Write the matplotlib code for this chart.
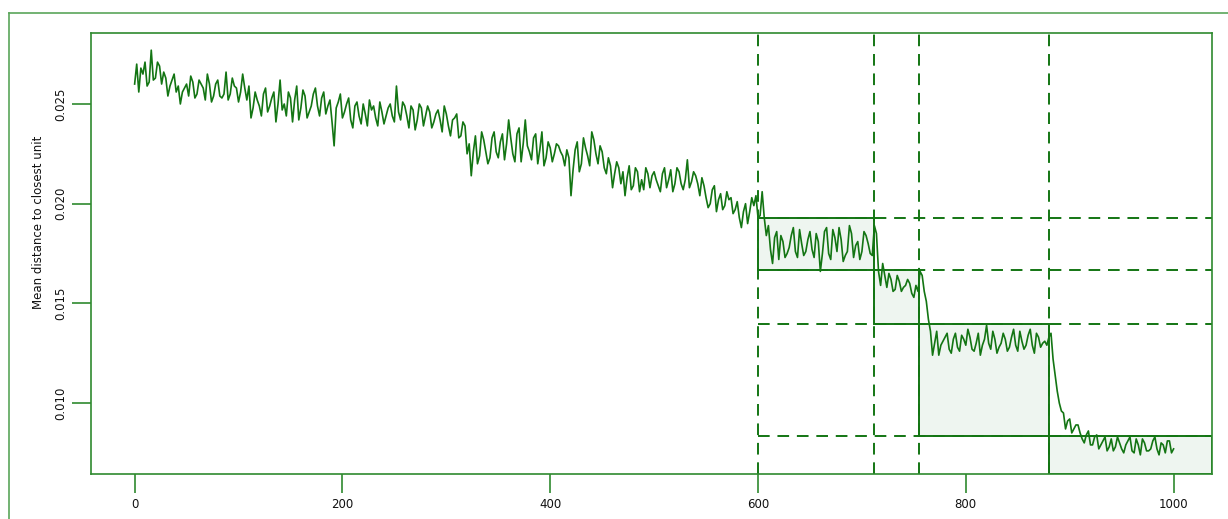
import numpy as np
import matplotlib
matplotlib.use("Agg")
import matplotlib.pyplot as plt
from matplotlib.patches import Rectangle
from matplotlib.lines import Line2D

# mean distance (x 1e-3), readings at epochs 0, 4, 8, ... 1000
dist_a = [26.0, 25.6, 26.5, 25.9, 27.7, 26.3, 26.9, 26.6, 25.4, 26.2, 25.6, 25.0, 25.8,
          25.4, 26.1, 25.5, 26.0, 25.2, 26.0, 25.4, 26.2, 25.3, 26.6, 25.5, 25.9, 25.1]
dist_b = [26.5, 25.2, 24.3, 25.6, 24.9, 25.5, 24.6, 25.3, 24.1, 26.2, 25.0, 25.6, 24.1,
          25.9, 24.8, 25.4, 24.6, 25.5, 24.9, 25.3, 24.5, 25.2, 22.9, 25.1, 24.3]
dist_c = [25.0, 24.2, 24.9, 24.4, 25.0, 23.9, 24.7, 24.3, 25.1, 24.0, 24.8, 24.4, 25.9,
          24.2, 24.9, 23.8, 24.7, 24.2, 24.8, 24.4, 24.6, 24.1, 24.7, 23.6, 24.5, 23.4,
          24.3, 23.3, 24.1, 22.5]
dist_d = [21.4, 23.4, 22.4, 23.2, 22.0, 23.3, 22.6, 23.1, 22.2, 24.2, 22.5, 23.5, 22.1,
          24.2, 22.6, 23.3, 22.0, 23.6, 22.3, 22.8, 22.5, 22.9, 22.4, 22.7, 20.4]
dist_e = [22.7, 21.6, 23.3, 22.4, 23.6, 22.5, 22.9, 21.8, 22.3, 20.8, 22.1, 21.0, 20.4,
          21.9, 20.9, 21.6, 21.2, 21.8, 20.8]
dist_f = [21.6, 20.9, 21.5, 20.8, 21.7, 21.0, 21.6, 20.7, 22.2, 21.1, 21.4, 20.4, 20.9,
          19.8, 20.7, 19.6, 20.5, 19.9, 20.2, 19.5, 20.1, 18.8, 20.0, 19.6, 19.9]
dist_g = [19.3, 20.6, 18.4, 17.7, 18.3, 17.2, 18.1, 17.5, 18.4, 17.6, 18.7, 17.4, 18.2,
          17.7, 18.5, 16.6, 18.6, 17.5, 18.7, 17.6, 18.2, 17.4, 18.9, 17.3, 18.1, 17.6,
          18.4, 17.5, 18.9]
dist_h = [16.6, 17.0, 15.8, 16.2, 15.7, 16.1, 15.8, 16.2, 15.5, 15.9, 16.6]
dist_i = [15.6, 14.2, 12.4, 13.6, 12.9, 13.3, 12.7, 13.2, 12.8, 13.4, 12.9, 13.3, 12.6,
          13.5, 12.9, 13.9, 12.7, 13.2, 12.8, 13.5, 12.6, 13.3, 12.9, 13.6, 12.7, 13.4,
          12.9, 13.5, 12.8, 13.1, 13.3]
dist_j = [12.2, 10.6, 9.6, 8.7, 9.2, 8.7, 8.9, 8.2, 8.4, 7.9, 8.3, 7.7, 8.1, 7.6, 8.2,
          7.8, 8.0, 7.5, 8.1, 7.6, 8.2, 7.4, 8.0, 7.6, 8.1, 7.7, 8.0, 7.5, 8.1, 7.7]

# readings at epochs 2, 6, 10, ... 998
mid_a = [27.0, 26.8, 27.1, 26.1, 26.2, 27.1, 26.0, 26.3, 25.9, 26.5, 25.9, 25.6, 26.0,
         26.4, 25.3, 26.2, 25.8, 26.5, 25.1, 26.0, 25.4, 25.5, 25.2, 26.3, 25.8]
mid_b = [25.6, 25.8, 25.9, 24.8, 25.2, 24.4, 25.8, 24.9, 25.6, 25.0, 24.7, 24.4, 25.3,
         25.2, 24.2, 25.7, 24.3, 24.9, 25.8, 24.4, 25.6, 24.9, 24.1, 24.8, 25.5]
mid_c = [24.6, 25.3, 23.8, 25.1, 24.0, 24.5, 25.2, 24.9, 23.9, 24.6, 24.4, 25.0, 24.1,
         24.6, 25.1, 24.4, 24.9, 23.7, 25.0, 23.9, 24.9, 23.8, 24.5, 24.2, 24.9, 23.9,
         24.2, 24.5, 23.4, 23.9]
mid_d = [23.0, 22.6, 22.0, 23.6, 22.6, 22.3, 23.6, 22.3, 23.5, 23.0, 23.3, 22.1, 23.8,
         23.0, 22.9, 22.2, 23.5, 22.7, 21.9, 23.1, 22.1, 23.0, 22.6, 21.9, 22.3]
mid_e = [21.7, 23.1, 22.0, 22.8, 21.9, 23.2, 22.0, 22.6, 21.5, 21.9, 21.5, 21.8, 21.6,
         21.3, 20.7, 21.8, 20.6, 20.7, 21.5]
mid_f = [21.4, 21.2, 20.6, 21.8, 21.2, 20.6, 21.8, 21.0, 21.2, 20.8, 21.6, 21.0, 21.3,
         20.3, 20.0, 20.9, 20.2, 19.7, 20.6, 20.3, 19.7, 19.3, 19.6, 19.0, 20.3]
mid_g = [20.4, 19.4, 19.3, 18.9, 17.0, 18.6, 18.4, 17.3, 17.8, 18.8, 17.3, 18.0, 17.6,
         18.6, 17.3, 18.1, 17.5, 18.8, 17.2, 18.3, 18.8, 17.1, 17.6, 18.5, 17.9, 17.2,
         18.6, 18.0, 17.4]
mid_h = [18.5, 15.9, 16.4, 16.5, 15.6, 16.4, 15.6, 15.9, 16.0, 15.3, 15.6]
mid_i = [16.4, 15.1, 13.6, 13.0, 12.4, 13.1, 13.5, 12.5, 13.5, 12.6, 13.2, 13.7, 12.7,
         13.0, 12.4, 13.2, 13.0, 13.6, 12.5, 13.0, 13.2, 12.8, 13.7, 12.6, 13.1, 12.9,
         13.7, 12.5, 13.3, 13.0, 12.9]
mid_j = [13.5, 11.4, 10.0, 9.5, 9.1, 8.5, 8.9, 8.5, 8.0, 8.6, 7.9, 8.4, 7.9, 8.3, 7.8,
         7.6, 8.3, 7.7, 7.9, 8.3, 7.5, 7.9, 8.2, 7.6, 7.7, 8.3, 7.4, 7.9, 8.1, 7.5]

# stage boundaries (epochs) and stage levels (x 1e-3)
stage_starts = [600, 712, 755, 880]
stage_levels = [19.29, 16.68, 13.97, 8.36]

even = dist_a + dist_b + dist_c + dist_d + dist_e + dist_f + dist_g + dist_h + dist_i + dist_j
odd = mid_a + mid_b + mid_c + mid_d + mid_e + mid_f + mid_g + mid_h + mid_i + mid_j
dist = np.empty(len(even) + len(odd))
dist[0::2] = even
dist[1::2] = odd
dist = dist * 1e-3
epochs = np.arange(len(dist)) * 2
levels = np.array(stage_levels) * 1e-3

line_col = '#137513'
frame_col = '#2f8a2f'
fill_col = '#eef5f0'

xmin, xmax = -42, 1037
ymin, ymax = 0.00644, 0.02856

fig = plt.figure(figsize=(12.28, 5.19), dpi=100)
ax = fig.add_axes([0.0741, 0.0867, 0.9129, 0.8497])

# shaded stage boxes
for i, x0 in enumerate(stage_starts):
    x1 = stage_starts[i + 1] if i + 1 < len(stage_starts) else xmax
    top = levels[i]
    bot = levels[i + 1] if i + 1 < len(levels) else ymin
    ax.add_patch(Rectangle((x0, bot), x1 - x0, top - bot, facecolor=fill_col,
                           edgecolor=line_col, linewidth=1.4, zorder=1))

for x0 in stage_starts:
    ax.axvline(x0, color=line_col, linestyle=(0, (6, 4)), linewidth=1.4, zorder=2)
for lv in levels:
    ax.hlines(lv, stage_starts[0], xmax, color=line_col, linestyle=(0, (6, 4)),
              linewidth=1.4, zorder=2)

ax.plot(epochs, dist, color=line_col, linewidth=1.2, zorder=3)

ax.set_xlim(xmin, xmax)
ax.set_ylim(ymin, ymax)
ax.set_xticks([0, 200, 400, 600, 800, 1000])
ax.set_yticks([0.010, 0.015, 0.020, 0.025])
ax.set_yticklabels(['0.010', '0.015', '0.020', '0.025'], rotation=90, va='center')

for s in ax.spines.values():
    s.set_color(frame_col)
    s.set_linewidth(1.2)
ax.tick_params(direction='out', length=14, width=1.2, color=frame_col,
               labelsize=8.5, labelcolor='#111111', pad=3)

ax.set_ylabel('Mean distance to closest unit', fontsize=8.5, color='#111111')
ax.yaxis.set_label_coords(-0.041, 0.57)

# outer frame
fig.add_artist(Line2D([0.0073, 0.0073], [0, 0.975], color='#5aa55a', linewidth=1.2))
fig.add_artist(Line2D([0.0073, 1], [0.975, 0.975], color='#5aa55a', linewidth=1.2))

fig.savefig('out.png', dpi=100)
